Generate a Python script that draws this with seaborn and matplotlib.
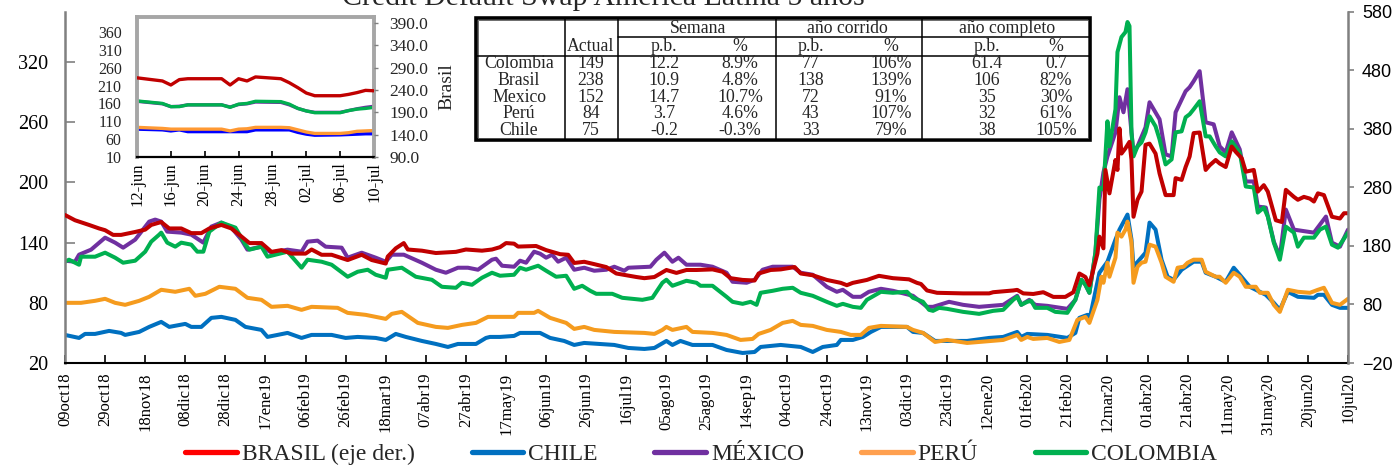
import pandas as pd
import numpy as np
import matplotlib.pyplot as plt
import seaborn as sns
from matplotlib.lines import Line2D
from matplotlib.patches import Rectangle

sns.set_theme(style='white')
plt.rcParams['font.family'] = ['Liberation Serif', 'DejaVu Serif']

''' Datos: CDS 5 años, (dias desde 09oct18, puntos basicos) '''
brasil = [(0, 233), (5, 224), (12, 216), (17, 210), (20, 207), (24, 199), (28, 199), (35, 204), (40, 208), (43, 216),
          (48, 221), (52, 210), (58, 210), (63, 202), (68, 202), (72, 210), (78, 216), (83, 210), (87, 199), (92, 185),
          (98, 185), (103, 170), (108, 173), (113, 167), (120, 167), (123, 174), (128, 165), (133, 165), (141, 156),
          (148, 165), (153, 156), (160, 150), (161, 162), (165, 176), (169, 185), (171, 174), (178, 172), (185, 168),
          (195, 170), (200, 174), (208, 172), (213, 174), (217, 178), (220, 185), (224, 184), (226, 179), (235, 180),
          (240, 173), (247, 166), (251, 165), (254, 151), (259, 153), (264, 149), (270, 144), (275, 133), (280, 130),
          (285, 127), (289, 125), (294, 127), (300, 139), (305, 134), (310, 139), (315, 139), (323, 140), (328, 136),
          (332, 125), (338, 122), (344, 121), (346, 133), (352, 139), (357, 140), (364, 144), (367, 133), (373, 130),
          (380, 122), (387, 117), (390, 113), (393, 117), (400, 122), (406, 129), (413, 125), (421, 123), (425, 117),
          (427, 115), (430, 104), (435, 100), (448, 99), (461, 99), (463, 101), (473, 104), (475, 105), (478, 99),
          (483, 98), (488, 101), (493, 93), (499, 93), (503, 101), (506, 133), (509, 127), (511, 113), (515, 167),
          (516, 196), (518, 176), (519, 310), (521, 270), (524, 327), (525, 310), (526, 381), (527, 338), (529, 347),
          (531, 358), (532, 327), (533, 230), (535, 259), (537, 273), (539, 353), (541, 355), (544, 338), (546, 304),
          (549, 267), (553, 267), (554, 296), (557, 293), (559, 315), (561, 333), (563, 373), (566, 374), (569, 310),
          (571, 318), (574, 327), (576, 321), (579, 315), (582, 350), (584, 341), (587, 330), (589, 307), (593, 310),
          (595, 273), (598, 284), (600, 273), (604, 224), (607, 221), (609, 276), (613, 264), (615, 259), (618, 264),
          (621, 261), (623, 256), (625, 270), (628, 267), (632, 230), (636, 227), (638, 236), (640, 236)]

chile = [(0, 48), (7, 45), (10, 49), (15, 49), (22, 52), (28, 50), (30, 48), (37, 51), (42, 56), (48, 61), (52, 56),
         (60, 59), (63, 56), (68, 56), (73, 65), (78, 66), (85, 63), (90, 56), (98, 53), (101, 46), (111, 50), (118, 45),
         (123, 48), (133, 48), (140, 45), (146, 46), (155, 45), (160, 43), (165, 49), (170, 46), (178, 42), (185, 39),
         (191, 36), (196, 39), (205, 39), (210, 45), (212, 46), (217, 46), (224, 47), (227, 50), (237, 50), (242, 45),
         (249, 42), (254, 38), (259, 40), (274, 38), (281, 35), (289, 34), (294, 35), (300, 42), (303, 38), (307, 42),
         (313, 38), (323, 38), (330, 33), (338, 30), (344, 31), (347, 36), (357, 38), (367, 36), (373, 31), (378, 36),
         (385, 38), (387, 43), (393, 43), (398, 46), (402, 51), (407, 56), (420, 56), (423, 51), (428, 50), (434, 42),
         (450, 42), (461, 45), (468, 46), (475, 51), (477, 46), (480, 49), (490, 48), (500, 45), (504, 50), (506, 65),
         (510, 68), (511, 63), (516, 110), (520, 121), (524, 143), (526, 153), (530, 168), (532, 143), (533, 116),
         (536, 123), (539, 130), (541, 160), (544, 153), (547, 123), (550, 106), (553, 103), (557, 113), (563, 121),
         (567, 121), (569, 110), (574, 106), (579, 101), (583, 115), (586, 108), (591, 96), (596, 91), (599, 88),
         (603, 80), (606, 73), (610, 91), (615, 86), (623, 85), (625, 88), (628, 88), (632, 78), (636, 75), (640, 75)]

mexico = [(0, 122), (5, 121), (7, 128), (13, 133), (20, 145), (25, 140), (29, 135), (35, 143), (42, 161), (45, 163),
          (48, 161), (51, 151), (58, 150), (63, 148), (69, 140), (73, 156), (78, 160), (83, 155), (88, 143), (91, 133),
          (98, 136), (103, 130), (111, 133), (118, 131), (121, 141), (126, 142), (130, 136), (138, 135), (141, 125),
          (148, 130), (155, 125), (160, 121), (163, 128), (169, 128), (178, 120), (185, 113), (190, 110), (196, 115),
          (201, 115), (206, 113), (213, 123), (215, 124), (218, 117), (224, 116), (227, 122), (230, 120), (234, 131),
          (237, 129), (240, 125), (243, 128), (246, 121), (250, 125), (254, 113), (259, 115), (264, 112), (270, 113),
          (274, 116), (279, 112), (281, 115), (292, 116), (295, 123), (299, 130), (303, 121), (306, 125), (310, 118),
          (317, 118), (323, 116), (330, 110), (333, 101), (340, 100), (344, 103), (348, 113), (353, 116), (363, 116),
          (367, 110), (373, 108), (380, 96), (385, 91), (388, 93), (393, 86), (397, 86), (401, 91), (407, 94),
          (413, 92), (423, 87), (430, 76), (433, 76), (441, 81), (448, 78), (456, 76), (468, 78), (475, 87), (477, 78),
          (481, 83), (484, 78), (490, 77), (500, 74), (504, 83), (507, 103), (509, 98), (511, 90), (514, 130),
          (516, 183), (518, 210), (520, 226), (524, 250), (526, 285), (528, 270), (530, 293), (532, 250), (533, 230),
          (535, 236), (539, 255), (541, 280), (546, 263), (549, 228), (552, 226), (554, 270), (559, 291), (561, 295),
          (563, 301), (566, 311), (569, 260), (573, 258), (576, 236), (579, 230), (582, 250), (586, 233), (589, 201),
          (593, 201), (595, 176), (599, 175), (603, 141), (606, 126), (609, 173), (613, 153), (623, 150), (629, 166),
          (632, 140), (636, 136), (640, 153)]

peru = [(0, 80), (8, 80), (15, 82), (20, 84), (25, 80), (30, 78), (37, 82), (42, 86), (48, 93), (55, 91), (62, 94),
        (65, 87), (70, 89), (77, 96), (85, 94), (91, 85), (98, 83), (103, 76), (111, 77), (118, 73), (123, 76),
        (136, 75), (141, 70), (150, 68), (155, 66), (160, 64), (163, 69), (168, 71), (176, 60), (185, 56), (191, 55),
        (198, 58), (205, 60), (211, 66), (224, 66), (226, 70), (234, 70), (236, 72), (242, 65), (250, 60), (254, 54),
        (259, 56), (264, 53), (274, 51), (289, 50), (294, 49), (298, 53), (300, 56), (303, 53), (310, 56), (313, 51),
        (323, 50), (330, 48), (337, 43), (343, 44), (346, 49), (352, 53), (358, 60), (363, 62), (367, 58), (373, 57),
        (380, 53), (387, 51), (392, 48), (397, 48), (401, 55), (407, 57), (420, 56), (423, 53), (428, 50), (434, 41),
        (440, 43), (450, 40), (456, 41), (468, 43), (475, 48), (477, 43), (480, 46), (483, 44), (490, 45), (496, 41),
        (501, 43), (505, 63), (509, 66), (511, 60), (515, 83), (517, 106), (518, 100), (520, 120), (521, 106),
        (524, 125), (525, 150), (527, 146), (529, 153), (530, 161), (532, 140), (533, 100), (535, 116), (537, 120),
        (539, 121), (541, 138), (544, 136), (547, 120), (549, 106), (553, 101), (555, 115), (558, 116), (560, 120),
        (563, 123), (567, 123), (569, 111), (574, 106), (576, 106), (579, 100), (583, 110), (586, 106), (589, 96),
        (594, 96), (596, 90), (600, 90), (603, 78), (606, 71), (610, 93), (615, 91), (621, 90), (625, 93), (628, 95),
        (632, 80), (636, 78), (640, 84)]

colombia = [(0, 121), (2, 123), (7, 118), (8, 126), (15, 126), (20, 130), (25, 125), (29, 120), (35, 122), (40, 131),
            (43, 141), (47, 148), (48, 150), (51, 140), (55, 136), (58, 140), (63, 138), (66, 131), (69, 131),
            (72, 151), (78, 160), (85, 155), (90, 138), (92, 133), (98, 136), (101, 126), (111, 131), (118, 115),
            (121, 123), (128, 121), (133, 118), (141, 106), (146, 111), (151, 113), (155, 108), (160, 105), (161, 113),
            (168, 115), (175, 106), (183, 103), (188, 96), (195, 95), (198, 100), (203, 98), (208, 105), (213, 110),
            (217, 107), (224, 108), (227, 115), (230, 113), (236, 117), (240, 112), (245, 106), (250, 107), (254, 94),
            (258, 97), (262, 92), (265, 89), (273, 89), (278, 85), (288, 83), (293, 85), (298, 100), (300, 103),
            (303, 97), (310, 102), (315, 100), (317, 97), (323, 97), (330, 86), (333, 81), (338, 79), (342, 81),
            (345, 78), (347, 90), (353, 92), (358, 94), (363, 95), (367, 90), (373, 87), (380, 81), (385, 77),
            (388, 79), (393, 76), (397, 75), (400, 83), (407, 91), (413, 90), (420, 91), (423, 85), (428, 81),
            (431, 73), (433, 72), (436, 75), (440, 74), (448, 71), (456, 69), (463, 72), (468, 73), (473, 83),
            (475, 86), (477, 78), (480, 81), (482, 82), (484, 75), (490, 75), (494, 71), (500, 70), (504, 83),
            (507, 103), (509, 98), (511, 90), (514, 130), (516, 195), (518, 193), (520, 261), (521, 236), (524, 273),
            (525, 330), (527, 345), (529, 350), (530, 360), (531, 356), (532, 250), (533, 226), (535, 236), (537, 240),
            (539, 250), (541, 266), (544, 256), (546, 243), (549, 218), (552, 223), (554, 250), (557, 251), (559, 265),
            (561, 268), (563, 273), (566, 281), (569, 246), (571, 246), (574, 236), (576, 230), (579, 226), (582, 241),
            (586, 230), (589, 196), (593, 195), (595, 170), (598, 175), (600, 166), (603, 140), (606, 123), (609, 156),
            (613, 150), (615, 136), (618, 145), (623, 145), (626, 153), (629, 156), (632, 138), (635, 135), (640, 150)]

fechas_ticks = ['09oct18', '29oct18', '18nov18', '08dic18', '28dic18', '17ene19', '06feb19', '26feb19', '18mar19',
                '07abr19', '27abr19', '17may19', '06jun19', '26jun19', '16jul19', '05ago19', '25ago19', '14sep19',
                '04oct19', '24oct19', '13nov19', '03dic19', '23dic19', '12ene20', '01feb20', '21feb20', '12mar20',
                '01abr20', '21abr20', '11may20', '31may20', '20jun20', '10jul20']

# Zoom: ultimas semanas (dias desde 12-jun)
dias_zoom = [0, 3, 4, 5, 6, 7, 10, 11, 12, 13, 14, 17, 18, 19, 20, 21, 24, 25, 26, 27, 28]
zoom_brasil = [267, 260, 251, 263, 265, 265, 265, 251, 265, 260, 269, 265, 256, 245, 233, 227, 227, 230, 234, 239, 238]
zoom_colombia = [167, 160, 151, 151, 156, 156, 156, 149, 158, 160, 166, 165, 158, 146, 139, 134, 134, 140, 144, 146, 149]
zoom_mexico = [166, 159, 151, 152, 156, 156, 156, 150, 157, 159, 164, 163, 156, 146, 139, 135, 135, 140, 145, 149, 152]
zoom_peru = [93, 90, 88, 88, 88, 88, 88, 83, 88, 89, 93, 93, 92, 86, 80, 76, 76, 78, 82, 83, 84]
zoom_chile = [88, 86, 83, 86, 81, 81, 81, 81, 81, 81, 86, 86, 86, 79, 74, 71, 72, 73, 74, 75, 75]
zoom_ticks = ['12-jun', '16-jun', '20-jun', '24-jun', '28-jun', '02-jul', '06-jul', '10-jul']

# Tabla
tabla_paises = ['Colombia', 'Brasil', 'Mexico', 'Perú', 'Chile']
tabla_actual = ['149', '238', '152', '84', '75']
semana_pb = ['12.2', '10.9', '14.7', '3.7', '-0.2']
semana_pct = ['8.9%', '4.8%', '10.7%', '4.6%', '-0.3%']
corrido_pb = ['77', '138', '72', '43', '33']
corrido_pct = ['106%', '139%', '91%', '107%', '79%']
completo_pb = ['61.4', '106', '35', '32', '38']
completo_pct = ['0.7', '82%', '30%', '61%', '105%']

paises = ['CHILE', 'MÉXICO', 'PERÚ', 'COLOMBIA']
colores = {'CHILE': '#0070C0', 'MÉXICO': '#7030A0', 'PERÚ': '#F59B1E', 'COLOMBIA': '#00B050'}

df = pd.concat([pd.DataFrame(s, columns=['dia', 'valor']).assign(pais=p)
                for p, s in zip(paises, [chile, mexico, peru, colombia])], ignore_index=True)
df_br = pd.DataFrame(brasil, columns=['dia', 'valor'])

W, H = 1394, 466
fig = plt.figure(figsize=(W / 100, H / 100), dpi=100)
fig.patch.set_facecolor('white')

''' Grafico principal '''
ax = fig.add_axes([65 / W, 1 - 363 / H, (1348 - 65) / W, (363 - 12) / H])
sns.lineplot(data=df, x='dia', y='valor', hue='pais', hue_order=paises, palette=colores,
             estimator=None, linewidth=2.9, legend=False, ax=ax, solid_joinstyle='round')
ax.set_xlim(0, 640)
ax.set_ylim(20, 370)
ax.set_yticks([20, 80, 140, 200, 260, 320])
ax.set_xticks(np.arange(0, 641, 20))
ax.set_xticklabels(fechas_ticks, rotation=90, fontsize=12)
ax.set_xlabel('')
ax.set_ylabel('')
ax.tick_params(axis='x', direction='in', length=6, width=1.2, pad=7, bottom=True, colors='black')
ax.tick_params(axis='y', direction='in', length=7, width=1.2, pad=12, labelsize=14.5, left=True,
               color='#808080', labelcolor='black')
for s in ['top', 'right']:
    ax.spines[s].set_visible(False)
ax.spines['left'].set_color('#808080')
ax.spines['left'].set_linewidth(1.8)
ax.spines['bottom'].set_color('black')
ax.spines['bottom'].set_linewidth(1.5)
ax.grid(False)

ax2 = ax.twinx()
sns.lineplot(data=df_br, x='dia', y='valor', color='#C00000', estimator=None, linewidth=2.9, ax=ax2,
             solid_joinstyle='round')
ax2.set_xlim(0, 640)
ax2.set_ylim(-20, 580)
ax2.set_yticks(np.arange(-20, 581, 100))
ax2.set_ylabel('')
ax2.tick_params(axis='y', direction='out', length=4, width=1.2, pad=6, labelsize=13, right=True,
                color='#808080', labelcolor='black')
for lab in ax2.get_yticklabels():
    lab.set_family(['Liberation Sans', 'DejaVu Sans'])
for s in ['top', 'left', 'bottom']:
    ax2.spines[s].set_visible(False)
ax2.spines['right'].set_color('#808080')
ax2.spines['right'].set_linewidth(1.8)
ax2.grid(False)

''' Zoom ultimas semanas '''
axz = fig.add_axes([137 / W, 1 - 157 / H, (374 - 137) / W, (157 - 17) / H])
axz.set_facecolor('white')
zdf = pd.DataFrame({'dia': dias_zoom, 'CHILE': zoom_chile, 'MÉXICO': zoom_mexico,
                    'PERÚ': zoom_peru, 'COLOMBIA': zoom_colombia}).melt(id_vars='dia', var_name='pais',
                                                                        value_name='valor')
sns.lineplot(data=zdf, x='dia', y='valor', hue='pais', hue_order=paises,
             palette={'CHILE': '#0000FF', 'MÉXICO': '#7030A0', 'PERÚ': '#FF9933', 'COLOMBIA': '#00B050'},
             estimator=None, linewidth=2.4, legend=False, ax=axz)
axz.set_xlim(0, 28)
axz.set_ylim(10, 402)
axz.set_yticks(np.arange(10, 361, 50))
axz.set_xticks(np.arange(0, 29, 4))
axz.set_xticklabels(zoom_ticks, rotation=90, fontsize=12)
axz.set_xlabel('')
axz.set_ylabel('')
axz.tick_params(axis='y', length=0, pad=11, labelsize=11.5)
axz.tick_params(axis='x', direction='in', length=4, width=1.2, pad=4, bottom=True, colors='black')
for s in ['top', 'left', 'right']:
    axz.spines[s].set_color('#A6A6A6')
    axz.spines[s].set_linewidth(2.8)
axz.spines['bottom'].set_color('black')
axz.spines['bottom'].set_linewidth(1.6)
axz.grid(False)

axz2 = axz.twinx()
sns.lineplot(x=dias_zoom, y=zoom_brasil, color='#C00000', linewidth=2.4, ax=axz2)
axz2.set_ylim(90, 403)
axz2.set_yticks(np.arange(90, 391, 50))
axz2.set_yticklabels([f'{v:.1f}' for v in np.arange(90, 391, 50)])
axz2.set_ylabel('Brasil', fontsize=14, labelpad=7)
axz2.tick_params(axis='y', direction='out', length=3, width=1, pad=8, labelsize=12.5, right=True, color='#808080')
for s in ['top', 'left', 'bottom', 'right']:
    axz2.spines[s].set_visible(False)
axz2.grid(False)

''' Tabla '''
axt = fig.add_axes([474 / W, 1 - 142 / H, (1093 - 474) / W, (142 - 16) / H])
axt.set_xlim(474, 1093)
axt.set_ylim(142, 16)
axt.axis('off')
axt.add_patch(Rectangle((476, 18), 614, 122, facecolor='white', edgecolor='black', linewidth=2.6))
axt.add_patch(Rectangle((478.5, 20.5), 609, 117, facecolor='none', edgecolor='#555555', linewidth=0.6))
for xv in [565, 618, 776, 922]:
    axt.plot([xv, xv], [18, 140], color='black', linewidth=1.1)
axt.plot([618, 1090], [37, 37], color='black', linewidth=1.1)
axt.plot([476, 1090], [56, 56], color='black', linewidth=1.1)

fs = 12.8
for txt, xc in zip(['Semana', 'año corrido', 'año completo'], [698, 847, 1007]):
    axt.text(xc, 29, txt, ha='center', va='center', fontsize=fs)
for txt, xc in zip(['Actual', 'p.b.', '%', 'p.b.', '%', 'p.b.', '%'], [591, 664, 740, 811, 891, 987, 1056]):
    axt.text(xc, 47, txt, ha='center', va='center', fontsize=fs)
columnas = [tabla_paises, tabla_actual, semana_pb, semana_pct, corrido_pb, corrido_pct, completo_pb, completo_pct]
centros = [519, 591, 664, 740, 811, 891, 987, 1056]
filas_y = [64, 80.5, 97.5, 114, 130.5]
for col, xc in zip(columnas, centros):
    for txt, yc in zip(col, filas_y):
        axt.text(xc, yc, txt, ha='center', va='center', fontsize=fs)

''' Titulo y leyenda '''
fig.text(0.433, 1 - 5 / H, 'Credit Default Swap America Latina 5 años', ha='center', va='baseline', fontsize=21.5)

handles = [Line2D([], [], color=c, linewidth=3.8) for c in ['#FF0000', '#0070C0', '#7030A0', '#FFA04F', '#00B050']]
etiquetas = ['BRASIL (eje der.)', 'CHILE', 'MÉXICO', 'PERÚ', 'COLOMBIA']
fig.legend(handles, etiquetas, loc='center', bbox_to_anchor=(0.503, 1 - 454.5 / H), ncol=5, frameon=False,
           fontsize=17, handlelength=2.2, handletextpad=0.2, columnspacing=2.4)

fig.savefig('out.png', dpi=100)
